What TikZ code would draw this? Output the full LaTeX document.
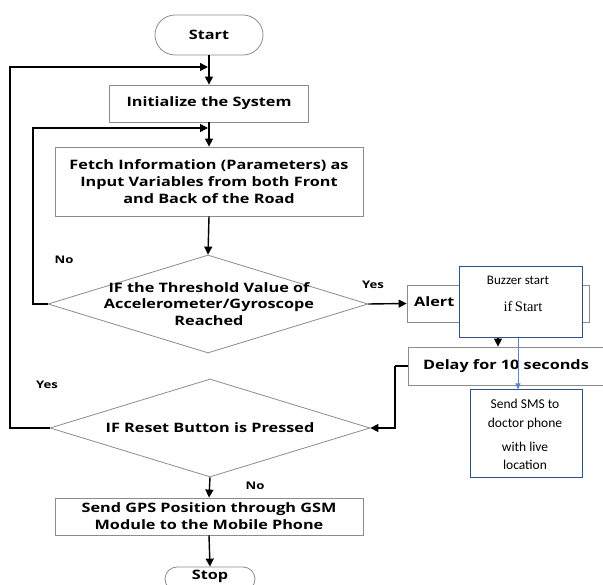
\documentclass[tikz,border=0pt]{standalone}
\usepackage{fontspec}
\setmainfont{Open Sans}[FakeStretch=1.25]
\newfontfamily\calfont{Carlito}
\newfontfamily\timesfont{Liberation Serif}
\usetikzlibrary{shapes.geometric,shapes.misc,arrows.meta}
\definecolor{boxgrey}{RGB}{140,140,140}
\definecolor{bluebord}{RGB}{47,82,143}
\definecolor{bluearrow}{RGB}{91,135,200}
\tikzset{
  flowbox/.style={draw=boxgrey,line width=0.8pt,fill=white,align=center,font=\bfseries\fontsize{13}{17}\selectfont,inner sep=0pt},
  termbox/.style={flowbox,rounded rectangle},
  decbox/.style={flowbox,diamond,aspect=3.3},
  notebox/.style={draw=bluebord,line width=1pt,fill=white,align=center,inner sep=0pt},
  notetxt/.style={font=\calfont\fontsize{13.5}{16}\selectfont,inner sep=0pt},
  conn/.style={draw=black,line width=1.4pt,-{Triangle[length=8pt,width=8pt]}},
  plain/.style={draw=black,line width=1.4pt},
  lbl/.style={font=\bfseries\fontsize{10.5}{12}\selectfont,inner sep=0pt},
}
\begin{document}
\begin{tikzpicture}[x=1pt,y=-1pt]
\useasboundingbox (0,0) rectangle (603,585);
\clip (0,0) rectangle (603,585);
% nodes
\node[termbox,minimum width=108,minimum height=40] (start) at (209,35) {Start};
\node[flowbox,minimum width=199,minimum height=37] (init) at (209,103.5) {Initialize the System};
\node[flowbox,minimum width=308,minimum height=69] (fetch) at (209,181.5) {Fetch Information (Parameters) as\\Input Variables from both Front\\and Back of the Road};
\node[decbox,minimum width=320,minimum height=98] (d1) at (208,304) {};
\node[align=center,font=\bfseries\fontsize{13}{16.5}\selectfont] (d1txt) at (209,304) {IF the Threshold Value of\\Accelerometer/Gyroscope\\Reached};
\node[flowbox,minimum width=182,minimum height=37] (alert) at (498,303.5) {};
\node[font=\bfseries\fontsize{13}{15}\selectfont,anchor=west,inner sep=0pt] (alerttxt) at (414,302) {Alert};
\node[flowbox,minimum width=196,minimum height=38] (delay) at (506,366) {Delay for 10 seconds};
% alert -> delay (partly hidden by the buzzer note)
\draw[conn] (alert.south) -- (alert.south |- delay.north);
\node[notebox,minimum width=123,minimum height=71] (buzz) at (520.5,302) {};
\node[notetxt,font=\calfont\fontsize{13}{16}\selectfont] (buzz1) at (518,280) {Buzzer start};
\node[font=\timesfont\fontsize{14.5}{16}\selectfont,inner sep=0pt] (buzz2) at (523,306) {if\,Start};
\node[notebox,minimum width=112,minimum height=88] (sms) at (526,434) {};
\node[notetxt] (sms1) at (525,404) {Send SMS to};
\node[notetxt] (sms2) at (525,424) {doctor phone};
\node[notetxt] (sms3) at (525,447) {with live};
\node[notetxt] (sms4) at (525,465) {location};
\node[decbox,minimum width=320,minimum height=98] (d2) at (210,428) {};
\node[font=\bfseries\fontsize{13}{15}\selectfont] (d2txt) at (210,428) {IF Reset Button is Pressed};
\node[flowbox,minimum width=308,minimum height=37] (gps) at (209,516.5) {Send GPS Position through GSM\\Module to the Mobile Phone};
\node[termbox,minimum width=90,minimum height=24] (stop) at (210,579) {};
\node[font=\bfseries\fontsize{13}{15}\selectfont,inner sep=0pt] (stoptxt) at (210,576) {Stop};
% coordinates
\coordinate (j1) at (209,67);
\coordinate (j2) at (209,128);
\coordinate (l1) at (10,67);
\coordinate (l2) at (33,128);
\coordinate (bend) at (395,366);
% connectors
\draw[plain] (start.south) -- (j1);
\draw[conn] (j1) -- (init.north);
\draw[conn] (d2.west) -- (l1 |- d2.west) -- (l1) -- ([xshift=-1pt]j1);
\draw[plain] (init.south) -- (j2);
\draw[conn] (j2) -- (fetch.north);
\draw[conn] (d1.west) -- (l2 |- d1.west) -- (l2) -- ([xshift=-1pt]j2);
\draw[conn] (fetch.south) -- (d1.north);
\draw[conn] (d1.east) -- (alert.west);
\draw[plain] (delay.west) -- (bend);
\draw[conn] (bend) -- (bend |- d2.east) -- (d2.east);
\draw[conn] (d2.south) -- (gps.north);
\draw[conn] (gps.south) -- (stop.north);
\draw[draw=bluearrow,line width=1pt,-{Triangle[length=6pt,width=5pt]}] ([xshift=-2.5pt]buzz.south) -- ([xshift=-2.5pt]buzz.south |- sms.north);
% labels
\node[lbl] (no1) at (64,260) {No};
\node[lbl] (yes1) at (373,285) {Yes};
\node[lbl] (yes2) at (47,385) {Yes};
\node[lbl] (no2) at (255,486) {No};
\end{tikzpicture}
\end{document}
